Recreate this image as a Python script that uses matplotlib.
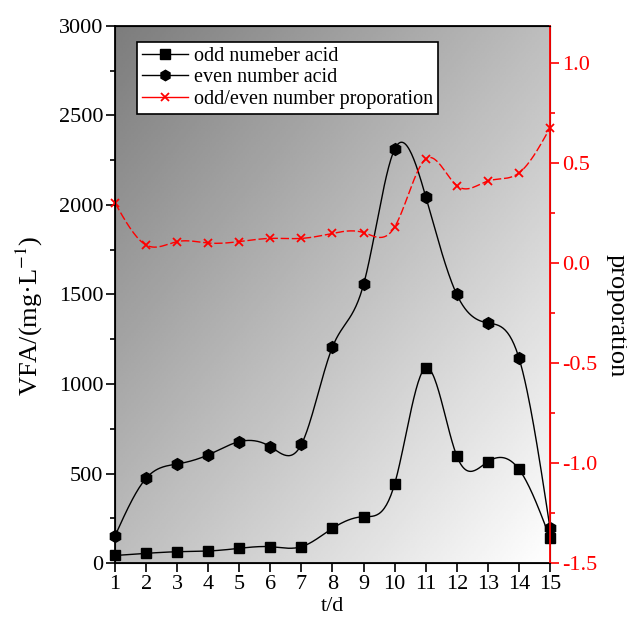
#!/usr/bin/env python3
"""VFA over time: odd / even number acids and their proportion (twin axes)."""

import numpy as np
import matplotlib
matplotlib.use("Agg")
import matplotlib.pyplot as plt
from matplotlib.lines import Line2D
from matplotlib.ticker import MultipleLocator, FormatStrFormatter

# --- data -----------------------------------------------------------------------------------
days = [1, 2, 3, 4, 5, 6, 7, 8, 9, 10, 11, 12, 13, 14, 15]
odd_acid = [42, 54, 63, 67, 82, 91, 91, 194, 259, 442, 1090, 598, 566, 524, 140]
even_acid = [151, 473, 553, 604, 678, 650, 663, 1207, 1556, 2312, 2047, 1500, 1341, 1146, 195]
proportion = [0.30, 0.09, 0.107, 0.10, 0.107, 0.123, 0.123, 0.148, 0.152, 0.18,
              0.52, 0.387, 0.41, 0.45, 0.675]

LABELS = ["odd numeber acid", "even number acid", "odd/even number proporation"]


# --- helpers --------------------------------------------------------------------------------
def natural_spline(x, y, n=400):
    """natural cubic spline through the points (Origin 'spline' connect)"""
    x = np.asarray(x, float)
    y = np.asarray(y, float)
    k = len(x)
    h = np.diff(x)
    A = np.zeros((k, k))
    b = np.zeros(k)
    A[0, 0] = A[-1, -1] = 1
    for i in range(1, k - 1):
        A[i, i - 1] = h[i - 1]
        A[i, i] = 2 * (h[i - 1] + h[i])
        A[i, i + 1] = h[i]
        b[i] = 6 * ((y[i + 1] - y[i]) / h[i] - (y[i] - y[i - 1]) / h[i - 1])
    M = np.linalg.solve(A, b)
    xs = np.linspace(x[0], x[-1], n)
    idx = np.clip(np.searchsorted(x, xs) - 1, 0, k - 2)
    x0, x1 = x[idx], x[idx + 1]
    hh = x1 - x0
    t0, t1 = x1 - xs, xs - x0
    ys = (M[idx] * t0 ** 3 / (6 * hh) + M[idx + 1] * t1 ** 3 / (6 * hh)
          + (y[idx] / hh - M[idx] * hh / 6) * t0
          + (y[idx + 1] / hh - M[idx + 1] * hh / 6) * t1)
    return xs, ys


# --- figure ---------------------------------------------------------------------------------
plt.rcParams["font.family"] = ["Liberation Serif", "DejaVu Serif"]
plt.rcParams["mathtext.fontset"] = "stix"

fig = plt.figure(figsize=(6.27, 6.17), dpi=100)
ax = fig.add_axes([0.1834, 0.0875, 0.6938, 0.8704])
ax2 = ax.twinx()

# diagonal grey (top-left) -> white (bottom-right) background
gx, gy = np.meshgrid(np.linspace(0, 1, 200), np.linspace(0, 1, 200))
grad = (gx + gy) / 2
ax.imshow(grad, extent=[1, 15, 0, 3000], origin="upper", cmap="gray",
          vmin=-0.95, vmax=1.0, aspect="auto", zorder=0, interpolation="bilinear")

xs, ys = natural_spline(days, odd_acid)
ax.plot(xs, ys, color="black", lw=1.0, zorder=2)
ax.plot(days, odd_acid, ls="none", marker="s", ms=7.5, color="black", zorder=3,
        clip_on=False)
xs, ys = natural_spline(days, even_acid)
ax.plot(xs, ys, color="black", lw=1.0, zorder=2)
ax.plot(days, even_acid, ls="none", marker="h", ms=8.5, color="black", zorder=3,
        clip_on=False)

xs, ys = natural_spline(days, proportion)
ax2.plot(xs, ys, color="red", lw=1.0, ls=(0, (6, 2)))
ax2.plot(days, proportion, ls="none", marker="x", ms=6, mew=1.3, color="red",
         clip_on=False)

# left axis
ax.set_xlim(1, 15)
ax.set_ylim(0, 3000)
ax.set_xticks(days)
ax.yaxis.set_major_locator(MultipleLocator(500))
ax.yaxis.set_minor_locator(MultipleLocator(250))
ax.tick_params(axis="both", direction="out", labelsize=16, width=1.2, length=6.5, pad=2)
ax.tick_params(axis="y", which="minor", direction="out", width=1.2, length=3.6)
ax.set_xlabel("t/d", fontsize=16, labelpad=2)
ax.set_ylabel("VFA/(mg·L$^{-1}$)", fontsize=19)
ax.yaxis.set_label_coords(-0.16, 0.46)
for s in ("left", "bottom", "top"):
    ax.spines[s].set_linewidth(1.3)

# right axis
ax2.set_ylim(-1.5, 1.185)
ax2.yaxis.set_major_locator(MultipleLocator(0.5))
ax2.yaxis.set_minor_locator(MultipleLocator(0.25))
ax2.yaxis.set_major_formatter(FormatStrFormatter("%.1f"))
ax2.tick_params(axis="y", which="both", direction="out", colors="red", labelsize=16,
                width=1.2, pad=2)
ax2.tick_params(axis="y", which="major", length=6.5)
ax2.tick_params(axis="y", which="minor", length=3.6)
ax2.spines["right"].set_color("red")
ax2.spines["right"].set_linewidth(1.3)
ax2.set_ylabel("proporation", fontsize=19, rotation=270, va="bottom")
ax2.yaxis.set_label_coords(1.128, 0.46)

# legend
handles = [
    Line2D([], [], color="black", lw=1.0, marker="s", ms=7.5),
    Line2D([], [], color="black", lw=1.0, marker="h", ms=7.5),
    Line2D([], [], color="red", lw=1.0, marker="x", ms=6, mew=1.3),
]
leg = ax2.legend(handles, LABELS, loc="upper left", bbox_to_anchor=(0.05, 0.971),
                 fontsize=14.5, frameon=True, fancybox=False, framealpha=1,
                 edgecolor="black", handlelength=2.3, borderpad=0.25,
                 labelspacing=0.12, handletextpad=0.3, borderaxespad=0)
leg.get_frame().set_linewidth(1.2)

fig.savefig("out.png", dpi=100, facecolor="white")
